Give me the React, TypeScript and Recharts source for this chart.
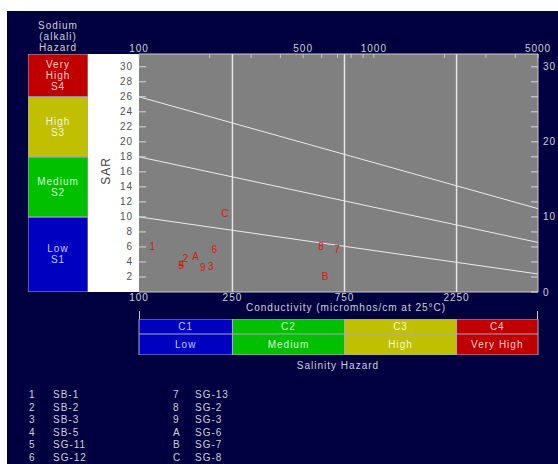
import React from 'react';
import { ComposedChart, BarChart, Bar, Line, Scatter, XAxis, YAxis, CartesianGrid, ReferenceLine, ReferenceArea } from 'recharts';

// --- data ---
const EC_DOMAIN = [100, 5000];
const SAR_MAX = 31.7;

const topTicks = [100, 200, 300, 400, 500, 600, 700, 800, 900, 1000, 2000, 3000, 4000, 5000];
const topLabels = [100, 500, 1000, 5000];
const bottomTicks = [100, 250, 750, 2250];
const leftTicks = [2, 4, 6, 8, 10, 12, 14, 16, 18, 20, 22, 24, 26, 28, 30];
const rightTicks = [0, 2, 4, 6, 8, 10, 12, 14, 16, 18, 20, 22, 24, 26, 28, 30];
const rightLabels = [0, 10, 20, 30];
const salinityLimits = [250, 750, 2250];

// sodium hazard dividing lines (S1/S2, S2/S3, S3/S4)
const lineS1S2 = [{ ec: 100, sar: 10 }, { ec: 5000, sar: 2.4 }];
const lineS2S3 = [{ ec: 100, sar: 18 }, { ec: 5000, sar: 6.6 }];
const lineS3S4 = [{ ec: 100, sar: 26 }, { ec: 5000, sar: 11.1 }];

const samples = [
    { id: '1', name: 'SB-1', ec: 114, sar: 6.0 },
    { id: '2', name: 'SB-2', ec: 158, sar: 4.4 },
    { id: '3', name: 'SB-3', ec: 202, sar: 3.4 },
    { id: '4', name: 'SB-5', ec: 152, sar: 3.6 },
    { id: '5', name: 'SG-11', ec: 151, sar: 3.55 },
    { id: '6', name: 'SG-12', ec: 209, sar: 5.7 },
    { id: '7', name: 'SG-13', ec: 697, sar: 5.7 },
    { id: '8', name: 'SG-2', ec: 596, sar: 6.0 },
    { id: '9', name: 'SG-3', ec: 187, sar: 3.3 },
    { id: 'A', name: 'SG-6', ec: 174, sar: 4.7 },
    { id: 'B', name: 'SG-7', ec: 620, sar: 2.0 },
    { id: 'C', name: 'SG-8', ec: 232, sar: 10.4 },
];

const sodiumBands = [
    { code: 'S1', lines: ['Low', 'S1'], from: 0, to: 10, color: '#0000c0', text: '#c8c8ff' },
    { code: 'S2', lines: ['Medium', 'S2'], from: 10, to: 18, color: '#00c000', text: '#d8f8d8' },
    { code: 'S3', lines: ['High', 'S3'], from: 18, to: 26, color: '#c0c000', text: '#f4f4e0' },
    { code: 'S4', lines: ['Very', 'High', 'S4'], from: 26, to: SAR_MAX, color: '#c00000', text: '#f8d0d0' },
];

const salinityBands = [
    { code: 'C1', name: 'Low', from: 100, to: 250, color: '#0000c0', text: '#c8c8ff' },
    { code: 'C2', name: 'Medium', from: 250, to: 750, color: '#00c000', text: '#d8f8d8' },
    { code: 'C3', name: 'High', from: 750, to: 2250, color: '#c0c000', text: '#f4f4e0' },
    { code: 'C4', name: 'Very High', from: 2250, to: 5000, color: '#c00000', text: '#f8d0d0' },
];

// --- layout ---
const W = 551;
const PLOT_LEFT = 132;
const PLOT_RIGHT = 531;
const PLOT_TOP = 43;
const PLOT_BOTTOM = 281;
const BG = '#000040';
const LIGHT = '#d0d0d8';
const EDGE = '#c8c8c8';
const RED = '#e41010';
const FONT = '"Liberation Sans", Arial, sans-serif';

const TopTick = (props: any) => {
    const { x, payload } = props;
    return (
        <g>
            <line x1={x} x2={x} y1={PLOT_TOP} y2={PLOT_TOP + 4} stroke={EDGE} />
            {topLabels.includes(payload.value) && (
                <text x={x} y={PLOT_TOP - 2.5} textAnchor="middle" fill={LIGHT} fontSize={10} letterSpacing={1}>
                    {payload.value}
                </text>
            )}
        </g>
    );
};

const BottomTick = (props: any) => (
    <text x={props.x} y={PLOT_BOTTOM + 9} textAnchor="middle" fill={LIGHT} fontSize={10} letterSpacing={1}>
        {props.payload.value}
    </text>
);

const LeftTick = (props: any) => {
    const { y, payload } = props;
    return (
        <g>
            <line x1={PLOT_LEFT} x2={PLOT_LEFT + 7} y1={y} y2={y} stroke="#d8d8d8" />
            <text x={PLOT_LEFT - 6} y={y + 3.5} textAnchor="end" fill="#505050" fontSize={10} letterSpacing={1}>
                {payload.value}
            </text>
        </g>
    );
};

const RightTick = (props: any) => {
    const { y, payload } = props;
    return (
        <g>
            <line x1={PLOT_RIGHT - 7} x2={PLOT_RIGHT} y1={y} y2={y} stroke="#d8d8d8" />
            {rightLabels.includes(payload.value) && (
                <text x={PLOT_RIGHT + 5} y={y + 3.5} textAnchor="start" fill={LIGHT} fontSize={10} letterSpacing={1}>
                    {payload.value}
                </text>
            )}
        </g>
    );
};

const SampleMark = (props: any) => (
    <text x={props.cx} y={props.cy} textAnchor="middle" dominantBaseline="central" fill={RED} fontSize={10}>
        {props.payload.id}
    </text>
);

const sodiumRow: { [key: string]: any } = { k: 'sodium' };
sodiumBands.forEach(b => { sodiumRow[b.code] = b.to - b.from; });

const bandLabel = (band: typeof sodiumBands[number]) => (p: any) => {
    const cx = p.x + p.width / 2;
    const cy = p.y + p.height / 2;
    const start = cy - ((band.lines.length - 1) * 11) / 2 + 3.5;
    return (
        <text textAnchor="middle" fill={band.text} fontSize={10} letterSpacing={1}>
            {band.lines.map((l, i) => (
                <tspan key={l} x={cx} y={start + i * 11}>{l}</tspan>
            ))}
        </text>
    );
};

const SalinityRow = ({ field, height }: { field: 'code' | 'name'; height: number }) => (
    <ComposedChart width={W} height={height} data={salinityBands} margin={{ top: 0, right: W - PLOT_RIGHT, bottom: 0, left: PLOT_LEFT }}>
        <XAxis type="number" dataKey="from" scale="log" domain={EC_DOMAIN} hide allowDataOverflow />
        <YAxis type="number" domain={[0, 1]} hide allowDataOverflow />
        <Line dataKey={() => 0.5} stroke="none" dot={false} activeDot={false} isAnimationActive={false} />
        {salinityBands.map(b => (
            <ReferenceArea
                key={b.code}
                x1={b.from}
                x2={b.to}
                y1={0}
                y2={1}
                fill={b.color}
                fillOpacity={1}
                stroke="#a8a8c0"
                strokeWidth={1}
                ifOverflow="visible"
                label={{ value: b[field], position: 'center', fill: b.text, fontSize: 10, letterSpacing: 1 }}
            />
        ))}
    </ComposedChart>
);

const abs = (left: number, top: number, extra: React.CSSProperties = {}): React.CSSProperties => ({
    position: 'absolute', left, top, ...extra,
});

export default function App() {
    return (
        <div style={{ position: 'absolute', left: 7, top: 11, width: W, height: 453, background: BG, fontFamily: FONT, overflow: 'hidden' }}>
            <div style={abs(0, 9, { width: 102, textAlign: 'center', color: LIGHT, fontSize: 10, lineHeight: '11px', letterSpacing: 1 })}>
                Sodium<br />(alkali)<br />Hazard
            </div>

            <div style={abs(81, PLOT_TOP, { width: PLOT_LEFT - 81, height: PLOT_BOTTOM - PLOT_TOP, background: '#ffffff' })} />
            <div style={abs(79, 153, { width: 40, height: 14, lineHeight: '14px', textAlign: 'center', fontSize: 12, letterSpacing: 1, color: '#404040', transform: 'rotate(-90deg)' })}>
                SAR
            </div>

            <div style={abs(21, PLOT_TOP)}>
                <BarChart width={60} height={PLOT_BOTTOM - PLOT_TOP} data={[sodiumRow]} margin={{ top: 0, right: 0, bottom: 0, left: 0 }} barCategoryGap={0} barGap={0}>
                    <XAxis dataKey="k" hide />
                    <YAxis type="number" domain={[0, SAR_MAX]} hide allowDataOverflow />
                    {sodiumBands.map(b => (
                        <Bar key={b.code} dataKey={b.code} stackId="s" fill={b.color} stroke="#a8a8c0" strokeWidth={1} isAnimationActive={false} label={bandLabel(b)} />
                    ))}
                </BarChart>
            </div>

            <div style={abs(0, 0)}>
                <ComposedChart width={W} height={300} margin={{ top: PLOT_TOP - 20, right: 0, bottom: 0, left: 81 }}>
                    <CartesianGrid xAxisId="bottom" yAxisId="left" horizontal={false} vertical={false} fill="#808080" stroke="none" />
                    <XAxis xAxisId="bottom" orientation="bottom" type="number" dataKey="ec" scale="log" domain={EC_DOMAIN} ticks={bottomTicks} tick={<BottomTick />} tickLine={false} axisLine={{ stroke: EDGE }} height={19} allowDataOverflow />
                    <XAxis xAxisId="top" orientation="top" type="number" dataKey="ec" scale="log" domain={EC_DOMAIN} ticks={topTicks} tick={<TopTick />} tickLine={false} axisLine={{ stroke: EDGE }} height={20} interval={0} allowDataOverflow />
                    <YAxis yAxisId="left" type="number" dataKey="sar" domain={[0, SAR_MAX]} ticks={leftTicks} tick={<LeftTick />} tickLine={false} axisLine={false} width={PLOT_LEFT - 81} interval={0} allowDataOverflow />
                    <YAxis yAxisId="right" orientation="right" type="number" dataKey="sar" domain={[0, SAR_MAX]} ticks={rightTicks} tick={<RightTick />} tickLine={false} axisLine={{ stroke: EDGE }} width={W - PLOT_RIGHT} interval={0} allowDataOverflow />
                    {salinityLimits.map(v => (
                        <ReferenceLine key={v} x={v} xAxisId="bottom" yAxisId="left" stroke="#e4e4e4" strokeWidth={1.5} />
                    ))}
                    {[lineS1S2, lineS2S3, lineS3S4].map((d, i) => (
                        <Line key={i} data={d} dataKey="sar" xAxisId="bottom" yAxisId="left" type="linear" stroke="#ececec" strokeWidth={1} dot={false} activeDot={false} isAnimationActive={false} />
                    ))}
                    <Scatter data={samples} dataKey="sar" xAxisId="bottom" yAxisId="left" shape={SampleMark} isAnimationActive={false} />
                </ComposedChart>
            </div>

            <div style={abs(239, 290, { width: 200, textAlign: 'center', color: LIGHT, fontSize: 10, lineHeight: '13px', letterSpacing: 1, whiteSpace: 'nowrap' })}>
                Conductivity (micromhos/cm at 25°C)
            </div>
            <div style={abs(PLOT_LEFT, 300, { width: 0, height: 8, borderLeft: `1px solid ${EDGE}` })} />
            <div style={abs(PLOT_RIGHT - 1, 300, { width: 0, height: 8, borderLeft: `1px solid ${EDGE}` })} />

            <div style={abs(0, 308)}>
                <SalinityRow field="code" height={15} />
            </div>
            <div style={abs(0, 323)}>
                <SalinityRow field="name" height={21} />
            </div>

            <div style={abs(231, 349, { width: 200, textAlign: 'center', color: LIGHT, fontSize: 10, lineHeight: '12px', letterSpacing: 1 })}>
                Salinity Hazard
            </div>

            {samples.map((s, i) => {
                const col = Math.floor(i / 6);
                const top = 378 + (i % 6) * 12.6;
                return (
                    <React.Fragment key={s.id}>
                        <div style={abs(col ? 166 : 22, top, { color: LIGHT, fontSize: 10, lineHeight: '12px', letterSpacing: 1 })}>{s.id}</div>
                        <div style={abs(col ? 188 : 46, top, { color: LIGHT, fontSize: 10, lineHeight: '12px', letterSpacing: 1 })}>{s.name}</div>
                    </React.Fragment>
                );
            })}
        </div>
    );
}
